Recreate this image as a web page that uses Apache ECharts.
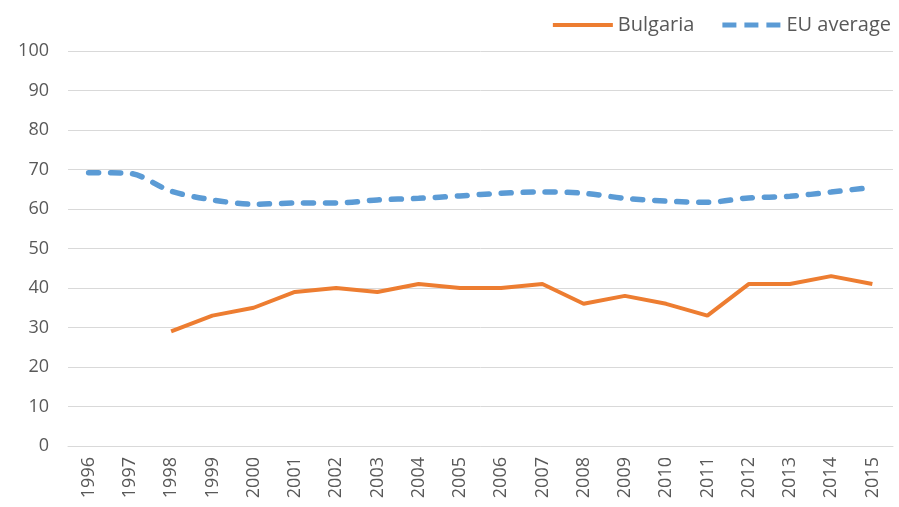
<!DOCTYPE html>
<html>
<head>
<meta charset="utf-8">
<script src="https://cdn.jsdelivr.net/npm/echarts@6/dist/echarts.min.js"></script>
<style>
  html, body { margin: 0; padding: 0; background: #fff; }
  #chart { width: 899px; height: 507px; }
</style>
</head>
<body>
<div id="chart"></div>
<script>
const years = ['1996', '1997', '1998', '1999', '2000', '2001', '2002', '2003', '2004', '2005',
  '2006', '2007', '2008', '2009', '2010', '2011', '2012', '2013', '2014', '2015'];
const bulgaria = [null, null, 29, 33, 35, 39, 40, 39, 41, 40, 40, 41, 36, 38, 36, 33, 41, 41, 43, 41];
const euAverage = [69.2, 69, 64.5, 62.3, 61.2, 61.5, 61.5, 62.3, 62.7, 63.3,
  64, 64.3, 64, 62.7, 62, 61.7, 62.8, 63.2, 64.3, 65.5];

const font = 'Open Sans';
const chart = echarts.init(document.getElementById('chart'));
chart.setOption({
  animation: false,
  textStyle: { fontFamily: font },
  legend: {
    top: 10,
    right: 3,
    itemWidth: 60,
    itemHeight: 5,
    itemGap: 28,
    textStyle: { fontSize: 20, color: '#595959', fontFamily: font },
    data: [
      { name: 'Bulgaria', icon: 'path://M0,0H60V4H0Z' },
      { name: 'EU average', icon: 'path://M0,0H14V5H0Z M22,0H36V5H22Z M44,0H58V5H44Z' }
    ]
  },
  grid: { left: 68, right: 6, top: 51, bottom: 61 },
  xAxis: {
    type: 'category',
    data: years,
    boundaryGap: true,
    axisLine: { lineStyle: { color: '#d9d9d9', width: 1 } },
    axisTick: { show: false },
    axisLabel: { rotate: 90, fontSize: 18, color: '#595959', margin: 11 }
  },
  yAxis: {
    type: 'value',
    min: 0,
    max: 100,
    interval: 10,
    axisLine: { show: false },
    axisTick: { show: false },
    axisLabel: { fontSize: 18, color: '#595959', margin: 19 },
    splitLine: { lineStyle: { color: '#d9d9d9', width: 1 } }
  },
  series: [
    {
      name: 'Bulgaria',
      type: 'line',
      data: bulgaria,
      symbol: 'none',
      color: '#ED7D31',
      lineStyle: { width: 4, color: '#ED7D31' }
    },
    {
      name: 'EU average',
      type: 'line',
      data: euAverage,
      symbol: 'none',
      smooth: 0.3,
      color: '#5B9BD5',
      lineStyle: { width: 5.5, type: [10, 12], color: '#5B9BD5', cap: 'round' }
    }
  ]
});
</script>
</body>
</html>
